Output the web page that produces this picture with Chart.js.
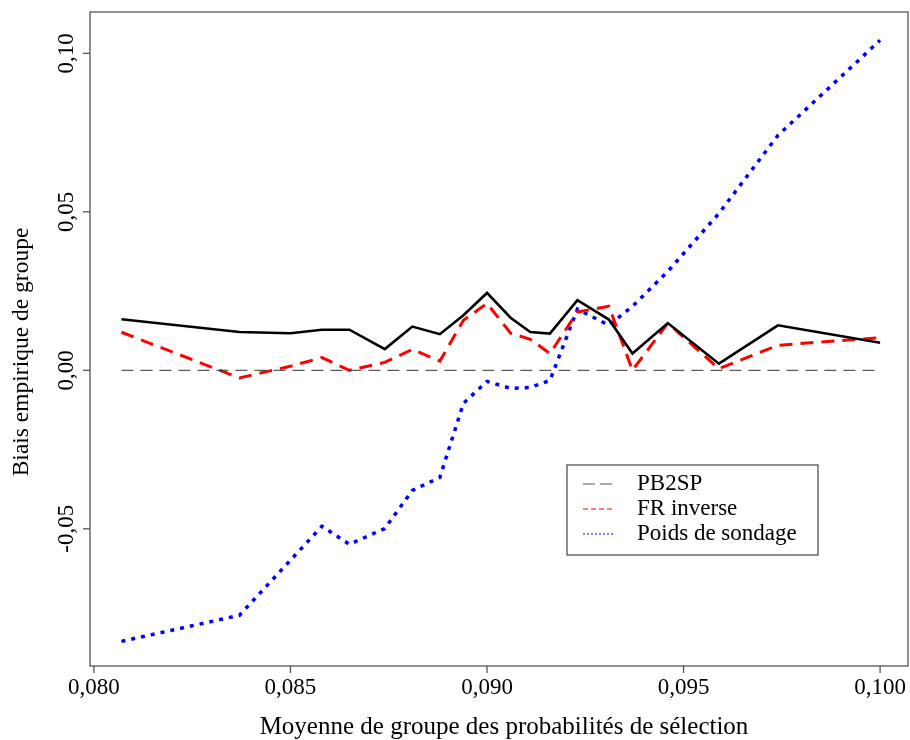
<!DOCTYPE html>
<html>
<head>
<meta charset="utf-8">
<script src="https://cdn.jsdelivr.net/npm/chart.js@4.4.1/dist/chart.umd.min.js"></script>
<style>
  body { margin: 0; background: #fff; }
  #wrap { width: 910px; height: 740px; }
</style>
</head>
<body>
<div id="wrap"><canvas id="biasChart" width="910" height="740"></canvas></div>
<script>
// Group means of selection probabilities (x) and empirical group bias for each method
const groupMeans = [0.0807, 0.0837, 0.0850, 0.0858, 0.0865, 0.0874, 0.0881, 0.0888, 0.0894, 0.0900,
                    0.0906, 0.0911, 0.0916, 0.0923, 0.0931, 0.0937, 0.0946, 0.0959, 0.0974, 0.1000];
const pb2sp = [0.0161, 0.0121, 0.0117, 0.0128, 0.0128, 0.0067, 0.0138, 0.0114, 0.0174, 0.0244,
               0.0166, 0.0121, 0.0116, 0.0221, 0.0160, 0.0053, 0.0149, 0.0021, 0.0142, 0.0087];
const frInverse = [0.0120, -0.0024, 0.0013, 0.0040, 0.0000, 0.0025, 0.0066, 0.0029, 0.0158, 0.0211,
                   0.0117, 0.0098, 0.0053, 0.0184, 0.0202, 0.0000, 0.0149, 0.0005, 0.0079, 0.0103];
const poidsSondage = [-0.0855, -0.0773, -0.0599, -0.0492, -0.0549, -0.0499, -0.0379, -0.0338, -0.0104, -0.0035,
                      -0.0057, -0.0054, -0.0032, 0.0193, 0.0142, 0.0202, 0.0312, 0.0495, 0.0741, 0.1041];

const seriesLabels = ['PB2SP', 'FR inverse', 'Poids de sondage'];
const xTicks = [0.080, 0.085, 0.090, 0.095, 0.100];
const yTicks = [-0.05, 0.00, 0.05, 0.10];
const zeroLine = [0, 0];

const serif = "'Liberation Serif', 'Times New Roman', serif";
const frNum = (v, d) => v.toFixed(d).replace('.', ',');
const toPoints = (ys) => ys.map((y, i) => ({ x: groupMeans[i], y: y }));

// Draws the R-style frame, axes, titles and legend box
const rAxesPlugin = {
  id: 'rAxes',
  afterDraw(chart) {
    const { ctx, chartArea: a, scales: { x, y } } = chart;
    ctx.save();
    ctx.strokeStyle = '#555';
    ctx.lineWidth = 1.3;
    ctx.strokeRect(a.left, a.top, a.right - a.left, a.bottom - a.top);

    ctx.fillStyle = '#000';
    ctx.font = '23px ' + serif;

    // x axis ticks
    ctx.textAlign = 'center';
    ctx.textBaseline = 'top';
    xTicks.forEach(v => {
      const px = x.getPixelForValue(v);
      ctx.beginPath();
      ctx.moveTo(px, a.bottom);
      ctx.lineTo(px, a.bottom + 7);
      ctx.stroke();
      ctx.fillText(frNum(v, 3), px, a.bottom + 10);
    });

    // y axis ticks (labels rotated like R's default)
    yTicks.forEach(v => {
      const py = y.getPixelForValue(v);
      ctx.beginPath();
      ctx.moveTo(a.left, py);
      ctx.lineTo(a.left - 7, py);
      ctx.stroke();
      ctx.save();
      ctx.translate(a.left - 12, py);
      ctx.rotate(-Math.PI / 2);
      ctx.textAlign = 'center';
      ctx.textBaseline = 'bottom';
      ctx.fillText(frNum(v, 2), 0, 0);
      ctx.restore();
    });

    // axis titles
    ctx.textAlign = 'center';
    ctx.textBaseline = 'middle';
    ctx.font = '25px ' + serif;
    ctx.fillText('Moyenne de groupe des probabilités de sélection', (a.left + a.right) / 2 + 5, 727);
    ctx.font = '23.5px ' + serif;
    ctx.save();
    ctx.translate(22, (a.top + a.bottom) / 2 + 13);
    ctx.rotate(-Math.PI / 2);
    ctx.fillText('Biais empirique de groupe', 0, 0);
    ctx.restore();

    // legend
    const box = { left: 567, top: 465, width: 251, height: 90 };
    ctx.strokeStyle = '#444';
    ctx.lineWidth = 1.2;
    ctx.strokeRect(box.left, box.top, box.width, box.height);
    ctx.font = '23px ' + serif;
    ctx.textAlign = 'left';
    const sampleDash = [[12, 5], [5, 3], [2, 2]];
    const sampleColor = ['#555', '#ff0000', '#0000ff'];
    seriesLabels.forEach((label, i) => {
      const cy = box.top + 19 + i * 25;
      ctx.save();
      ctx.strokeStyle = sampleColor[i];
      ctx.lineWidth = 1;
      ctx.setLineDash(sampleDash[i]);
      ctx.beginPath();
      ctx.moveTo(583, cy);
      ctx.lineTo(613, cy);
      ctx.stroke();
      ctx.restore();
      ctx.fillStyle = '#000';
      ctx.fillText(label, 637, cy);
    });
    ctx.restore();
  }
};

new Chart(document.getElementById('biasChart').getContext('2d'), {
  type: 'line',
  data: {
    datasets: [
      {
        label: 'zero',
        data: zeroLine.map((y, i) => ({ x: i === 0 ? groupMeans[0] : groupMeans[groupMeans.length - 1], y: y })),
        borderColor: '#333',
        borderWidth: 1,
        borderDash: [12, 7],
        pointRadius: 0,
      },
      {
        label: seriesLabels[0],
        data: toPoints(pb2sp),
        borderColor: '#000',
        borderWidth: 2.6,
        pointRadius: 0,
        tension: 0,
      },
      {
        label: seriesLabels[1],
        data: toPoints(frInverse),
        borderColor: '#ff0000',
        borderWidth: 3,
        borderDash: [13, 8],
        pointRadius: 0,
        tension: 0,
      },
      {
        label: seriesLabels[2],
        data: toPoints(poidsSondage),
        borderColor: '#0000ff',
        borderWidth: 3.5,
        borderDash: [4, 6],
        pointRadius: 0,
        tension: 0,
      },
    ],
  },
  options: {
    responsive: false,
    animation: false,
    layout: { padding: { left: 90, top: 12, right: 2, bottom: 74 } },
    plugins: {
      legend: { display: false },
      tooltip: { enabled: false },
    },
    scales: {
      x: { type: 'linear', min: 0.0799, max: 0.10071, display: false },
      y: { type: 'linear', min: -0.09328, max: 0.11303, display: false },
    },
  },
  plugins: [rAxesPlugin],
});
</script>
</body>
</html>
